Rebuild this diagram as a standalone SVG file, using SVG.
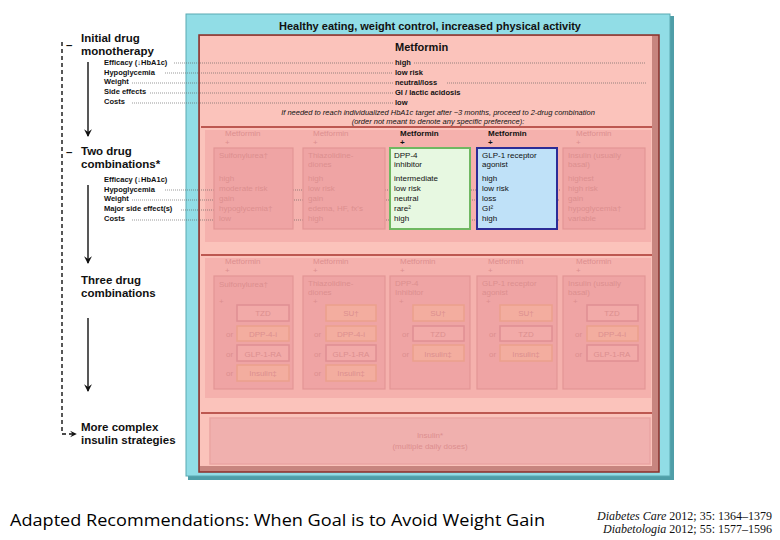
<svg xmlns="http://www.w3.org/2000/svg" width="780" height="540" viewBox="0 0 780 540">
<style>
text{font-family:"Liberation Sans",Arial,sans-serif;}
.h{font-weight:bold;font-size:11.5px;fill:#111;}
.lb{font-weight:bold;font-size:7.5px;fill:#111;}
.v{font-weight:bold;font-size:7.5px;fill:#111;}
.cv{font-size:8px;fill:#111;}
.fd{font-size:8px;fill:#dc8f8f;}
.fb{fill:#efa4a4;stroke:#e39696;stroke-width:1.2;}
.sb{fill:#f2aaa8;stroke:#e08f93;stroke-width:1.5;}
.sbo{fill:#f3ad9f;stroke:#eba08c;stroke-width:1.5;}
.dot{stroke:#555;stroke-width:0.6;stroke-dasharray:1 1;fill:none;}
.rl{stroke:#a8342e;stroke-width:1.6;}
</style>
<defs>
<marker id="ah" viewBox="0 0 10 10" refX="8" refY="5" markerWidth="7" markerHeight="7" orient="auto"><path d="M1,1 L9,5 L1,9 L4,5 z" fill="#111"/></marker>
<marker id="ah2" viewBox="0 0 10 10" refX="8" refY="5" markerWidth="6" markerHeight="6" orient="auto"><path d="M1,1 L9,5 L1,9 L4,5 z" fill="#111"/></marker>
</defs>
<rect width="780" height="540" fill="#fff"/>

<!-- outer teal frame -->
<g id="frame">
<rect x="188" y="16" width="486" height="464" fill="#4f9ea8"/>
<rect x="186" y="14" width="484" height="462" fill="#91dde6" stroke="#5aa9b2" stroke-width="1"/>
<text x="430" y="30" text-anchor="middle" style="font-weight:bold;font-size:11px;fill:#111">Healthy eating, weight control, increased physical activity</text>
<rect x="199" y="35" width="460" height="437" fill="#c7857f" stroke="#8a2f2a" stroke-width="1.5"/>
<rect x="200" y="36" width="452" height="430" fill="#fbc3bb"/>
<rect x="205" y="130" width="446" height="112" fill="#f5b1ad"/>
<rect x="205" y="258" width="446" height="140" fill="#f5b1ad"/>
<line class="rl" x1="201" y1="127" x2="652" y2="127"/>
<line class="rl" x1="201" y1="255" x2="652" y2="255"/>
<line class="rl" x1="201" y1="413" x2="652" y2="413"/>
</g>

<!-- left labels -->
<g id="stage1">
<text x="66" y="49" class="h">–</text>
<text x="81" y="42" class="h">Initial drug</text>
<text x="81" y="55" class="h">monotherapy</text>
<text x="104" y="65" class="lb">Efficacy (↓HbA1c)</text>
<text x="104" y="75" class="lb">Hypoglycemia</text>
<text x="104" y="84" class="lb">Weight</text>
<text x="104" y="94" class="lb">Side effects</text>
<text x="104" y="104" class="lb">Costs</text>
</g>
<g id="stage2">
<text x="66" y="156" class="h">–</text>
<text x="81" y="155" class="h">Two drug</text>
<text x="81" y="168" class="h">combinations*</text>
<text x="104" y="182" class="lb">Efficacy (↓HbA1c)</text>
<text x="104" y="192" class="lb">Hypoglycemia</text>
<text x="104" y="201" class="lb">Weight</text>
<text x="104" y="211" class="lb">Major side effect(s)</text>
<text x="104" y="221" class="lb">Costs</text>
</g>
<g id="stage3">
<text x="81" y="284" class="h">Three drug</text>
<text x="81" y="297" class="h">combinations</text>
</g>
<g id="stage4">
<text x="81" y="431" class="h">More complex</text>
<text x="81" y="444" class="h">insulin strategies</text>
</g>

<!-- connectors -->
<g id="connectors">
<line x1="88" y1="62" x2="88" y2="136" stroke="#111" stroke-width="1.4" marker-end="url(#ah)"/>
<line x1="88" y1="185" x2="88" y2="263" stroke="#111" stroke-width="1.4" marker-end="url(#ah)"/>
<line x1="88" y1="318" x2="88" y2="391" stroke="#111" stroke-width="1.4" marker-end="url(#ah)"/>
<path d="M62,42 V434 H76" fill="none" stroke="#111" stroke-width="1.4" stroke-dasharray="4 3" marker-end="url(#ah2)"/>
<line class="dot" x1="174" y1="63" x2="393" y2="63"/>
<line class="dot" x1="414" y1="63" x2="646" y2="63"/>
<line class="dot" x1="165" y1="73" x2="393" y2="73"/>
<line class="dot" x1="132" y1="83" x2="393" y2="83"/>
<line class="dot" x1="447" y1="83" x2="646" y2="83"/>
<line class="dot" x1="150" y1="93" x2="393" y2="93"/>
<line class="dot" x1="132" y1="103" x2="393" y2="103"/>
<line class="dot" x1="165" y1="190" x2="560" y2="190"/>
<line class="dot" x1="132" y1="200" x2="560" y2="200"/>
<line class="dot" x1="181" y1="210" x2="214" y2="210"/>
<line class="dot" x1="132" y1="220" x2="560" y2="220"/>
</g>

<!-- section 1 -->
<g id="metformin">
<text x="395" y="51" style="font-weight:bold;font-size:11px;fill:#111">Metformin</text>
<text x="395" y="65" class="v">high</text>
<text x="395" y="75" class="v">low risk</text>
<text x="395" y="85" class="v">neutral/loss</text>
<text x="395" y="95" class="v">GI / lactic acidosis</text>
<text x="395" y="105" class="v">low</text>
<text x="438" y="115" text-anchor="middle" style="font-style:italic;font-size:7.5px;fill:#111">If needed to reach individualized HbA1c target after ~3 months, proceed to 2-drug combination</text>
<text x="438" y="124" text-anchor="middle" style="font-style:italic;font-size:7.5px;fill:#111">(order not meant to denote any specific preference):</text>
</g>

<!-- section 2 -->
<g id="su2">
<text x="225" y="136" class="fd">Metformin</text><text x="225" y="145" class="fd">+</text>
<rect class="fb" x="214" y="148" width="79" height="81"/>
<text x="219" y="158" class="fd">Sulfonylurea†</text>
<text x="219" y="181" class="fd">high</text><text x="219" y="191" class="fd">moderate risk</text><text x="219" y="201" class="fd">gain</text><text x="219" y="211" class="fd">hypoglycemia†</text><text x="219" y="221" class="fd">low</text>
</g>
<g id="tzd2">
<text x="313" y="136" class="fd">Metformin</text><text x="313" y="145" class="fd">+</text>
<rect class="fb" x="303" y="148" width="82" height="81"/>
<text x="308" y="158" class="fd">Thiazolidine-</text><text x="308" y="167" class="fd">diones</text>
<text x="308" y="181" class="fd">high</text><text x="308" y="191" class="fd">low risk</text><text x="308" y="201" class="fd">gain</text><text x="308" y="211" class="fd">edema, HF, fx's</text><text x="308" y="221" class="fd">high</text>
</g>
<g id="dpp2">
<text x="400" y="136" class="cv" style="font-weight:bold">Metformin</text><text x="400" y="145" class="cv" style="font-weight:bold">+</text>
<rect x="390" y="148" width="80" height="81" fill="#e7f8e1" stroke="#6fb861" stroke-width="2"/>
<text x="394" y="158" class="cv">DPP-4</text><text x="394" y="167" class="cv">inhibitor</text>
<text x="394" y="181" class="cv">intermediate</text><text x="394" y="191" class="cv">low risk</text><text x="394" y="201" class="cv">neutral</text><text x="394" y="211" class="cv">rare²</text><text x="394" y="221" class="cv">high</text>
</g>
<g id="glp2">
<text x="488" y="136" class="cv" style="font-weight:bold">Metformin</text><text x="488" y="145" class="cv" style="font-weight:bold">+</text>
<rect x="477" y="148" width="80" height="81" fill="#bfe1f8" stroke="#2c2c96" stroke-width="2"/>
<text x="482" y="158" class="cv">GLP-1 receptor</text><text x="482" y="167" class="cv">agonist</text>
<text x="482" y="181" class="cv">high</text><text x="482" y="191" class="cv">low risk</text><text x="482" y="201" class="cv">loss</text><text x="482" y="211" class="cv">GI²</text><text x="482" y="221" class="cv">high</text>
</g>
<g id="ins2">
<text x="576" y="136" class="fd">Metformin</text><text x="576" y="145" class="fd">+</text>
<rect class="fb" x="563" y="148" width="82" height="81"/>
<text x="568" y="158" class="fd">Insulin (usually</text><text x="568" y="167" class="fd">basal)</text>
<text x="568" y="181" class="fd">highest</text><text x="568" y="191" class="fd">high risk</text><text x="568" y="201" class="fd">gain</text><text x="568" y="211" class="fd">hypoglycemia†</text><text x="568" y="221" class="fd">variable</text>
</g>

<!-- section 3 -->
<g id="su3">
<text x="225" y="264" class="fd">Metformin</text><text x="225" y="273" class="fd">+</text>
<rect class="fb" x="214" y="276" width="79" height="113"/>
<text x="219" y="287" class="fd">Sulfonylurea†</text><text x="219" y="304" class="fd">+</text>
<rect class="sb" x="237" y="305" width="52" height="16"/><text x="263" y="316" class="fd" text-anchor="middle">TZD</text>
<text x="226" y="337" class="fd">or</text><rect class="sbo" x="237" y="326" width="52" height="15"/><text x="263" y="337" class="fd" text-anchor="middle">DPP-4-i</text>
<text x="226" y="357" class="fd">or</text><rect class="sb" x="237" y="345" width="52" height="16"/><text x="263" y="357" class="fd" text-anchor="middle">GLP-1-RA</text>
<text x="226" y="376" class="fd">or</text><rect class="sbo" x="237" y="365" width="52" height="16"/><text x="263" y="376" class="fd" text-anchor="middle">Insulin‡</text>
</g>
<g id="tzd3">
<text x="313" y="264" class="fd">Metformin</text><text x="313" y="273" class="fd">+</text>
<rect class="fb" x="303" y="276" width="82" height="113"/>
<text x="308" y="286" class="fd">Thiazolidine-</text><text x="308" y="295" class="fd">diones</text><text x="313" y="304" class="fd">+</text>
<rect class="sbo" x="326" y="305" width="50" height="16"/><text x="351" y="316" class="fd" text-anchor="middle">SU†</text>
<text x="314" y="337" class="fd">or</text><rect class="sbo" x="326" y="326" width="50" height="15"/><text x="351" y="337" class="fd" text-anchor="middle">DPP-4-i</text>
<text x="314" y="357" class="fd">or</text><rect class="sb" x="326" y="345" width="50" height="16"/><text x="351" y="357" class="fd" text-anchor="middle">GLP-1-RA</text>
<text x="314" y="376" class="fd">or</text><rect class="sbo" x="326" y="365" width="50" height="16"/><text x="351" y="376" class="fd" text-anchor="middle">Insulin‡</text>
</g>
<g id="dpp3">
<text x="400" y="264" class="fd">Metformin</text><text x="400" y="273" class="fd">+</text>
<rect class="fb" x="390" y="276" width="80" height="113"/>
<text x="395" y="286" class="fd">DPP-4</text><text x="395" y="295" class="fd">Inhibitor</text><text x="399" y="304" class="fd">+</text>
<rect class="sbo" x="413" y="305" width="51" height="16"/><text x="438" y="316" class="fd" text-anchor="middle">SU†</text>
<text x="402" y="337" class="fd">or</text><rect class="sb" x="413" y="326" width="51" height="15"/><text x="438" y="337" class="fd" text-anchor="middle">TZD</text>
<text x="402" y="357" class="fd">or</text><rect class="sbo" x="413" y="345" width="51" height="16"/><text x="438" y="357" class="fd" text-anchor="middle">Insulin‡</text>
</g>
<g id="glp3">
<text x="488" y="264" class="fd">Metformin</text><text x="488" y="273" class="fd">+</text>
<rect class="fb" x="477" y="276" width="80" height="113"/>
<text x="482" y="286" class="fd">GLP-1 receptor</text><text x="482" y="295" class="fd">agonist</text><text x="486" y="304" class="fd">+</text>
<rect class="sbo" x="500" y="305" width="52" height="16"/><text x="526" y="316" class="fd" text-anchor="middle">SU†</text>
<text x="489" y="337" class="fd">or</text><rect class="sb" x="500" y="326" width="52" height="15"/><text x="526" y="337" class="fd" text-anchor="middle">TZD</text>
<text x="489" y="357" class="fd">or</text><rect class="sbo" x="500" y="345" width="52" height="16"/><text x="526" y="357" class="fd" text-anchor="middle">Insulin‡</text>
</g>
<g id="ins3">
<text x="576" y="264" class="fd">Metformin</text><text x="576" y="273" class="fd">+</text>
<rect class="fb" x="563" y="276" width="82" height="113"/>
<text x="568" y="286" class="fd">Insulin (usually</text><text x="568" y="295" class="fd">basal)</text><text x="573" y="304" class="fd">+</text>
<rect class="sb" x="587" y="305" width="51" height="16"/><text x="612" y="316" class="fd" text-anchor="middle">TZD</text>
<text x="575" y="337" class="fd">or</text><rect class="sbo" x="587" y="326" width="51" height="15"/><text x="612" y="337" class="fd" text-anchor="middle">DPP-4-i</text>
<text x="575" y="357" class="fd">or</text><rect class="sb" x="587" y="345" width="51" height="16"/><text x="612" y="357" class="fd" text-anchor="middle">GLP-1-RA</text>
</g>

<!-- section 4 -->
<g id="insulin4">
<rect x="210" y="418" width="440" height="46" fill="#f0b0ae" stroke="#eaa5a3" stroke-width="1.5"/>
<text x="430" y="438" class="fd" text-anchor="middle">Insulin*</text>
<text x="430" y="449" class="fd" text-anchor="middle">(multiple daily doses)</text>
</g>

<!-- captions -->
<text x="10" y="526" textLength="535" lengthAdjust="spacingAndGlyphs" style="font-family:'Open Sans','Liberation Sans',sans-serif;font-size:17px;fill:#000">Adapted Recommendations: When Goal is to Avoid Weight Gain</text>
<text x="772" y="520" text-anchor="end" style="font-family:'Liberation Serif',serif;font-size:12px;fill:#111"><tspan font-style="italic">Diabetes Care</tspan> 2012; 35: 1364–1379</text>
<text x="772" y="533" text-anchor="end" style="font-family:'Liberation Serif',serif;font-size:12px;fill:#111"><tspan font-style="italic">Diabetologia</tspan> 2012; 55: 1577–1596</text>
</svg>
